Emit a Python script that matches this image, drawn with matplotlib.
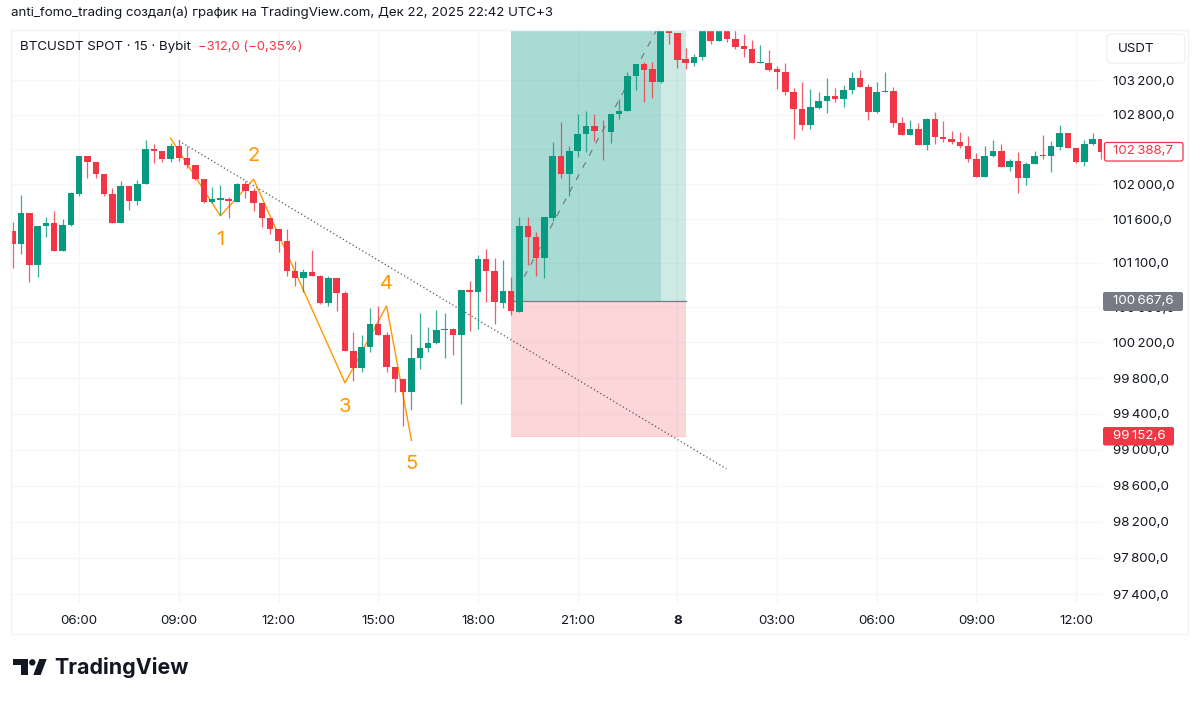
import matplotlib
matplotlib.use("Agg")
import matplotlib.pyplot as plt
from matplotlib.patches import Rectangle, FancyBboxPatch, Polygon, Circle
import numpy as np

opens = [101462,101310,101674,101071,101523,101553,101238,101534,101887,102321,102252,102113,101887,101560,101979,101807,101998,102406,102383,102290,102433,102302,102221,102059,101800,101822,101826,101800,101998,101921,101788,101610,101492,101351,101006,100934,100998,100953,100649,100930,100759,100100,99916,100148,100403,100279,99924,99789,99640,100029,100141,100197,100343,100350,100283,100793,100774,101146,101006,100649,100786,100549,101526,101397,101154,101617,102329,102114,102383,102575,102675,102614,102598,102806,102837,103248,103387,103325,103183,103840,103752,103441,103398,103468,103830,103656,103800,103675,103598,103560,103394,103402,103325,103298,103067,102867,102686,102883,102960,103017,102983,103087,103229,103117,102829,103060,103079,102702,102567,102636,102452,102748,102548,102521,102487,102433,102287,102079,102318,102383,102202,102268,102068,102237,102333,102325,102425,102587,102414,102260,102460,102525]
highs = [101564,101872,101674,101523,101621,101697,101598,101910,102321,102321,102252,102113,101952,102040,101979,102048,102510,102463,102383,102471,102510,102444,102221,102059,101963,101990,101857,102009,102036,101952,101788,101610,101492,101484,101127,101028,101249,100964,100953,100930,100785,100313,100283,100590,100616,100313,99924,99789,100298,100530,100373,100571,100530,100365,100789,100899,101196,101256,101154,101135,100945,101621,101621,101450,101629,102483,102710,102444,102806,102845,102806,102737,102806,102983,103291,103387,103414,103406,103880,103900,103752,103575,103510,103880,103880,103850,103850,103800,103741,103664,103606,103548,103363,103402,103106,103175,103098,103060,103221,103106,103144,103290,103317,103156,103175,103290,103117,102771,102740,102702,102760,102829,102722,102610,102598,102556,102356,102441,102506,102460,102291,102371,102260,102383,102564,102491,102679,102587,102414,102506,102591,102525]
lows = [101040,101204,100885,100945,101401,101238,101238,101523,101864,102067,102075,101864,101560,101560,101705,101762,101998,102240,102260,102252,102271,102183,102048,101788,101788,101648,101617,101792,101845,101693,101507,101431,101219,100953,100839,100774,100953,100631,100612,100560,100100,99767,99864,100088,100279,99864,99640,99258,99445,99905,100088,100186,100029,100059,99512,100324,100350,100661,100406,100594,100511,100541,101078,100957,100934,101579,102075,101868,102317,102367,102502,102279,102471,102752,102837,103087,102945,102998,103171,103625,103345,103325,103368,103433,103618,103656,103645,103568,103472,103394,103394,103310,103098,103029,102525,102625,102636,102863,102825,102944,102894,103040,103117,102740,102825,103060,102660,102567,102567,102452,102394,102463,102479,102460,102410,102260,102079,102079,102310,102194,102152,101902,101994,102237,102287,102137,102395,102414,102241,102210,102445,102291]
closes = [101310,101674,101071,101523,101553,101238,101534,101895,102321,102256,102113,101887,101560,101979,101811,101998,102406,102383,102290,102433,102302,102221,102059,101800,101826,101838,101803,102002,101921,101788,101614,101492,101355,101006,100934,100998,100953,100642,100930,100759,100100,99916,100148,100403,100279,99924,99789,99640,100029,100141,100197,100335,100350,100283,100789,100770,101146,101006,100653,100785,100556,101526,101397,101154,101621,102329,102114,102383,102575,102675,102606,102606,102806,102837,103248,103387,103322,103183,103830,103752,103437,103398,103468,103830,103656,103800,103675,103591,103560,103394,103406,103317,103298,103067,102867,102686,102886,102960,103017,102983,103087,103229,103117,102829,103060,103079,102702,102567,102636,102452,102748,102548,102525,102487,102433,102287,102079,102318,102383,102202,102268,102068,102237,102325,102321,102433,102587,102414,102256,102460,102521,102375]

price_ticks = [103200,102800,102400,102000,101600,101100,100600,100200,99800,99400,99000,98600,98200,97800,97400]
time_ticks = [8,20,32,44,56,68,80,92,104,116,128]
time_labels = ["06:00","09:00","12:00","15:00","18:00","21:00","8","03:00","06:00","09:00","12:00"]

wave_idx = [19,25,29,40,45,48]
wave_price = [102529,101636,102056,99745,100612,99101]
wave_label_idx = [25,29,40,45,48]
wave_label_price = [101363,102325,99479,100862,98839]
wave_labels = ["1","2","3","4","5"]

trend_idx = [20,85.9]
trend_price = [102498,98786]
entry_price = 100667.6
stop_price = 99152.6
last_price = 102388.7
box_idx = [60,81,78]
target_end_idx = 77.5
target_price = 103784

GREEN = "#089981"
RED = "#F23645"
INK = "#131722"
GRID = "#F5F6F8"
FONT = ["Inter","DejaVu Sans"]
plt.rcParams['font.family'] = FONT

W,H = 1200,701
fig = plt.figure(figsize=(12,7.01),dpi=100,facecolor="white")
L,R,T,B = 11,1102,30,604
ax = fig.add_axes([L/W,1-B/H,(R-L)/W,(B-T)/H])
ax.set_facecolor("none")
x0,dx = 12.7,8.308
ax.set_xlim((L-x0)/dx,(R-x0)/dx)
ax.set_yscale("log")
ax.set_ylim(97295,103784)
ax.minorticks_off()
for s in ax.spines.values():
    s.set_visible(False)
ax.set_yticks(price_ticks)
ax.set_yticklabels([f"{p:,d}".replace(",","\u2009")+",0" for p in price_ticks])
ax.yaxis.set_minor_locator(matplotlib.ticker.NullLocator())
ax.yaxis.tick_right()
ax.set_xticks(time_ticks)
ax.set_xticklabels(time_labels)
ax.tick_params(axis="y",length=0,pad=8,labelsize=9.6,labelcolor=INK)
ax.tick_params(axis="x",length=0,pad=8,labelsize=9.6,labelcolor=INK)
for lab in ax.get_xticklabels():
    if lab.get_text()=="8":
        lab.set_fontweight("bold")
ax.grid(True,color=GRID,lw=1.0,zorder=0)
ax.set_axisbelow(True)

# position box
l,r,m = box_idx
ax.fill_between([l,m],[entry_price]*2,[target_price]*2,color=GREEN,alpha=0.35,lw=0,zorder=1)
ax.fill_between([m,r],[entry_price]*2,[target_price]*2,color=GREEN,alpha=0.2,lw=0,zorder=1)
ax.fill_between([l,r],[stop_price]*2,[entry_price]*2,color=RED,alpha=0.2,lw=0,zorder=1)
ax.plot([l,r],[entry_price]*2,color="#787B86",lw=0.9,zorder=1.5)
ax.plot([l,r],[stop_price]*2,color=RED,lw=0.6,alpha=0.3,zorder=1.5)
ax.plot([l,target_end_idx],[entry_price,target_price],color="#787B86",lw=0.9,ls=(0,(5,6)),zorder=1.6)

# drawings
ax.plot(trend_idx,trend_price,color="#50535E",lw=0.9,ls=(0,(1,2)),zorder=1.7)
ax.plot(wave_idx,wave_price,color="#FF9800",lw=1.0,zorder=1.8)
for xi,pi,t in zip(wave_label_idx,wave_label_price,wave_labels):
    ax.text(xi,pi,t,color="#FF9800",fontsize=14.5,ha="center",va="center",zorder=5)

# candles
o,h,lo,c = map(np.array,(opens,highs,lows,closes))
idx = np.arange(len(o))
colors = np.where(c>=o,GREEN,RED)
ax.vlines(idx,lo,h,colors=list(colors),lw=0.9,alpha=0.8,zorder=3)
ax.bar(idx,np.abs(c-o),bottom=np.minimum(o,c),width=0.78,color=list(colors),lw=0,zorder=4)
ax.set_xlim((L-x0)/dx,(R-x0)/dx)

# chrome, in pixel coordinates
ov = fig.add_axes([0,0,1,1],zorder=10)
ov.set_xlim(0,W); ov.set_ylim(H,0); ov.axis("off"); ov.patch.set_alpha(0)
ov.add_patch(Rectangle((11,29.5),1177,604.5,fill=False,ec="#F0F3FA",lw=1))

ov.text(11,13,"anti_fomo_trading создал(а) график на TradingView.com, Дек 22, 2025 22:42 UTC+3",fontsize=9.55,color=INK,va="center")
ov.text(20,47,"BTCUSDT SPOT · 15 · Bybit",fontsize=9.6,color=INK,va="center")
ov.text(198,47,"\u2212312,0 (\u22120,35%)",fontsize=9.45,color=RED,va="center")

def fmt(p):
    s = f"{p:,.1f}"
    return s.replace(",","\u2009").replace(".",",")

ov.add_patch(FancyBboxPatch((1103,292),80,19,boxstyle="round,pad=0,rounding_size=2",fc="#787B86",ec="none"))
ov.text(1113,301.5,fmt(entry_price),color="white",fontsize=9.6,va="center")
ov.add_patch(FancyBboxPatch((1103,427),71,18.5,boxstyle="round,pad=0,rounding_size=2",fc=RED,ec="none"))
ov.text(1113,436,fmt(stop_price),color="white",fontsize=9.6,va="center")
ov.add_patch(FancyBboxPatch((1104.5,142.5),78.5,18.5,boxstyle="round,pad=0,rounding_size=2",fc="white",ec=RED,lw=0.9))
ov.text(1113,151.5,fmt(last_price),color=RED,fontsize=9.6,va="center")
ov.add_patch(FancyBboxPatch((1107,34),78,29,boxstyle="round,pad=0,rounding_size=4",fc="white",ec="#EEF0F4",lw=0.9))
ov.text(1118,48.5,"USDT",color=INK,fontsize=9.6,va="center")

# logo
ov.add_patch(Polygon([(13.3,659),(28.3,659),(28.3,675),(20.7,675),(20.7,665),(13.3,665)],fc=INK,ec="none"))
ov.add_patch(Circle((32.3,662.4),3.2,fc=INK,ec="none"))
ov.add_patch(Polygon([(39.3,659),(46.7,659),(40.7,675),(33.3,675)],fc=INK,ec="none"))
ov.text(54,668,"TradingView",fontsize=15.4,fontweight="bold",color=INK,va="center")

fig.savefig("out.png",dpi=100,facecolor="white")
